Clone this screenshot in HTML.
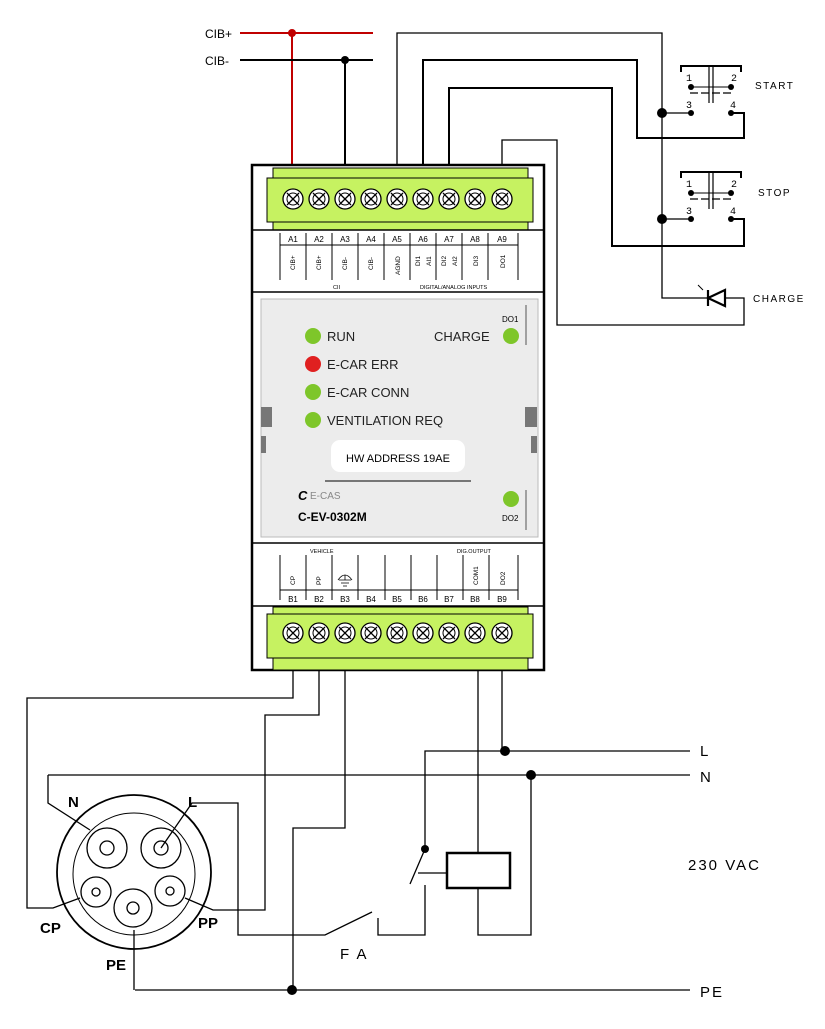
<!DOCTYPE html>
<html><head><meta charset="utf-8"><style>
html,body{margin:0;padding:0;background:#fff}
svg{display:block;font-family:"Liberation Sans",sans-serif}
</style></head><body>
<svg width="825" height="1029" viewBox="0 0 825 1029" xmlns="http://www.w3.org/2000/svg">
<defs>
<g id="scr"><circle r="10" fill="#fff" stroke="#000" stroke-width="1.3"/><circle r="6" fill="none" stroke="#000" stroke-width="1"/><path d="M-6,-6L6,6M-6,6L6,-6" stroke="#000" stroke-width="1.3"/></g>
</defs>
<!-- top wires -->
<g fill="none" stroke="#000" stroke-width="2">
<path d="M240,33H373M292,33V165" stroke="#c00000"/>
<path d="M240,60H373M345,60V165"/>
<path d="M397,165V33H662V298H708" stroke-width="1.3"/>
<path d="M423,165V60H637V138H744V113H731"/>
<path d="M449,165V88H612V246H744V219H731"/>
<path d="M502,165V140H557V325H744V298H725" stroke-width="1.3"/>
<path d="M662,113H691M662,219H691" stroke-width="1.3"/>
</g>
<g fill="#000"><circle cx="292" cy="33" r="4" fill="#c00000"/><circle cx="345" cy="60" r="4"/><circle cx="662" cy="113" r="5"/><circle cx="662" cy="219" r="5"/></g>
<text x="205" y="38" font-size="12">CIB+</text><text x="205" y="65" font-size="12">CIB-</text>
<!-- switches -->
<g stroke="#000" fill="none">
<path d="M681,72V66H741V72" stroke-width="2"/><path d="M709,66V103M713,66V103" stroke-width="1.2"/><path d="M691,87H731" stroke-width="1"/><path d="M690,93H731" stroke-dasharray="8,3" stroke-width="1.3"/>
<path d="M681,178V172H741V178" stroke-width="2"/><path d="M709,172V209M713,172V209" stroke-width="1.2"/><path d="M691,193H731" stroke-width="1"/><path d="M690,199H731" stroke-dasharray="8,3" stroke-width="1.3"/>
<path d="M708,290V306M708,298L725,290V306Z" stroke-width="2.2"/><path d="M703,290L698,285" stroke-width="1"/>
</g>
<g fill="#000"><circle cx="691" cy="87" r="3"/><circle cx="731" cy="87" r="3"/><circle cx="691" cy="113" r="3"/><circle cx="731" cy="113" r="3"/>
<circle cx="691" cy="193" r="3"/><circle cx="731" cy="193" r="3"/><circle cx="691" cy="219" r="3"/><circle cx="731" cy="219" r="3"/></g>
<g font-size="10" font-family="Liberation Mono,monospace"><text x="686" y="81">1</text><text x="731" y="81">2</text><text x="686" y="108">3</text><text x="730" y="108">4</text>
<text x="686" y="187">1</text><text x="731" y="187">2</text><text x="686" y="214">3</text><text x="730" y="214">4</text></g>
<g font-size="10" letter-spacing="1.5"><text x="755" y="89">START</text><text x="758" y="196">STOP</text><text x="753" y="302">CHARGE</text></g>
<!-- module -->
<rect x="252" y="165" width="292" height="505" fill="#fff" stroke="#000" stroke-width="2.5"/>
<rect x="273" y="168" width="255" height="62" fill="#c6f261" stroke="#000" stroke-width="1"/>
<rect x="267" y="178" width="266" height="44" fill="#c6f261" stroke="#000" stroke-width="1"/>
<rect x="273" y="607" width="255" height="63" fill="#c6f261" stroke="#000" stroke-width="1"/>
<rect x="267" y="614" width="266" height="44" fill="#c6f261" stroke="#000" stroke-width="1"/>
<g><use href="#scr" x="293" y="199"/><use href="#scr" x="319" y="199"/><use href="#scr" x="345" y="199"/><use href="#scr" x="371" y="199"/><use href="#scr" x="397" y="199"/><use href="#scr" x="423" y="199"/><use href="#scr" x="449" y="199"/><use href="#scr" x="475" y="199"/><use href="#scr" x="502" y="199"/>
<use href="#scr" x="293" y="633"/><use href="#scr" x="319" y="633"/><use href="#scr" x="345" y="633"/><use href="#scr" x="371" y="633"/><use href="#scr" x="397" y="633"/><use href="#scr" x="423" y="633"/><use href="#scr" x="449" y="633"/><use href="#scr" x="475" y="633"/><use href="#scr" x="502" y="633"/></g>
<path d="M252,230H544M252,292H544M252,543H544M252,606H544" stroke="#000" stroke-width="1.5"/>
<g stroke="#000" stroke-width="1"><path d="M280,245H518M280,590H518"/>
<path d="M280,233V280M306,233V280M332,233V280M358,233V280M384,233V280M410,233V280M436,233V280M462,233V280M488,233V280M518,233V280"/>
<path d="M280,555V600M306,555V600M332,555V600M358,555V600M385,555V600M411,555V600M437,555V600M463,555V600M489,555V600M518,555V600"/></g>
<g font-size="8" text-anchor="middle"><text x="293" y="242">A1</text><text x="319" y="242">A2</text><text x="345" y="242">A3</text><text x="371" y="242">A4</text><text x="397" y="242">A5</text><text x="423" y="242">A6</text><text x="449" y="242">A7</text><text x="475" y="242">A8</text><text x="502" y="242">A9</text>
<text x="293" y="602">B1</text><text x="319" y="602">B2</text><text x="345" y="602">B3</text><text x="371" y="602">B4</text><text x="397" y="602">B5</text><text x="423" y="602">B6</text><text x="449" y="602">B7</text><text x="475" y="602">B8</text><text x="502" y="602">B9</text></g>
<g font-size="6.5">
<text transform="translate(295,270) rotate(-90)">CIB+</text><text transform="translate(321,270) rotate(-90)">CIB+</text><text transform="translate(347,270) rotate(-90)">CIB-</text><text transform="translate(373,270) rotate(-90)">CIB-</text><text transform="translate(400,275) rotate(-90)">AGND</text><text transform="translate(420,266) rotate(-90)">DI1</text><text transform="translate(431,266) rotate(-90)">AI1</text><text transform="translate(446,266) rotate(-90)">DI2</text><text transform="translate(457,266) rotate(-90)">AI2</text><text transform="translate(478,266) rotate(-90)">DI3</text><text transform="translate(505,268) rotate(-90)">DO1</text>
<text transform="translate(295,585) rotate(-90)">CP</text><text transform="translate(321,585) rotate(-90)">PP</text><text transform="translate(478,585) rotate(-90)">COM1</text><text transform="translate(505,585) rotate(-90)">DO2</text>
<text x="333" y="289" font-size="5.5">CII</text><text x="420" y="289" font-size="5.5">DIGITAL/ANALOG INPUTS</text>
<text x="310" y="553" font-size="5.5">VEHICLE</text><text x="457" y="553" font-size="5.5">DIG.OUTPUT</text></g>
<path d="M345,575V580M339,580H351M341,583H349M343,586H347M338,580Q345,570 352,580" stroke="#000" fill="none" stroke-width="0.8"/>
<!-- panel -->
<rect x="261" y="299" width="277" height="238" fill="#ececec" stroke="#bbb"/>
<rect x="261" y="407" width="11" height="20" fill="#777"/><rect x="261" y="436" width="5" height="17" fill="#777"/>
<rect x="525" y="407" width="12" height="20" fill="#777"/><rect x="531" y="436" width="6" height="17" fill="#777"/>
<path d="M526,305V345M526,490V530" stroke="#555"/>
<g fill="#7ec62a"><circle cx="313" cy="336" r="8"/><circle cx="313" cy="392" r="8"/><circle cx="313" cy="420" r="8"/><circle cx="511" cy="336" r="8"/><circle cx="511" cy="499" r="8"/></g>
<circle cx="313" cy="364" r="8" fill="#e02020"/>
<g font-size="13" fill="#222"><text x="327" y="341">RUN</text><text x="327" y="369">E-CAR ERR</text><text x="327" y="397">E-CAR CONN</text><text x="327" y="425">VENTILATION REQ</text><text x="434" y="341">CHARGE</text></g>
<text x="502" y="322" font-size="8">DO1</text><text x="502" y="521" font-size="8">DO2</text>
<rect x="331" y="440" width="134" height="32" rx="9" fill="#fff"/>
<text x="398" y="462" font-size="11" text-anchor="middle">HW ADDRESS 19AE</text>
<path d="M325,481H471" stroke="#000"/>
<text x="298" y="500" font-size="13" font-weight="bold" font-style="italic">C</text><text x="310" y="499" font-size="10" fill="#888">E-CAS</text>
<text x="298" y="521" font-size="12" font-weight="bold">C-EV-0302M</text>
<!-- bottom wiring -->
<g fill="none" stroke="#000" stroke-width="1.3">
<path d="M293,670V698H27V908H53L80,898"/>
<path d="M319,670V715H265V910H213L185,898"/>
<path d="M345,670V828H293V990"/>
<path d="M48,775H690M48,775V803L90,830"/>
<path d="M213,803H238V935H325L372,912M378,918V935H425V885"/>
<path d="M425,849V751H690M425,849L410,884M418,873H447"/>
<path d="M478,670V853M478,888V935H531V775M502,670V751"/>
<path d="M135,990H690M134,930V990"/>
<path d="M161,848L192,803H213"/>
</g>
<rect x="447" y="853" width="63" height="35" fill="none" stroke="#000" stroke-width="2.5"/>
<g fill="#000"><circle cx="505" cy="751" r="5"/><circle cx="531" cy="775" r="5"/><circle cx="292" cy="990" r="5"/><circle cx="425" cy="849" r="4"/></g>
<!-- connector -->
<g fill="none" stroke="#000" stroke-width="1.3">
<circle cx="134" cy="872" r="77" stroke-width="1.8"/><circle cx="134" cy="874" r="61" stroke-width="1"/>
<circle cx="107" cy="848" r="20"/><circle cx="107" cy="848" r="7"/>
<circle cx="161" cy="848" r="20"/><circle cx="161" cy="848" r="7"/>
<circle cx="96" cy="892" r="15"/><circle cx="96" cy="892" r="4"/>
<circle cx="170" cy="891" r="15"/><circle cx="170" cy="891" r="4"/>
<circle cx="133" cy="908" r="19"/><circle cx="133" cy="908" r="6"/>
</g>
<g font-size="15" font-weight="bold"><text x="68" y="807">N</text><text x="188" y="807">L</text><text x="40" y="933">CP</text><text x="198" y="928">PP</text><text x="106" y="970">PE</text></g>
<g font-size="15" letter-spacing="2"><text x="700" y="756">L</text><text x="700" y="782">N</text><text x="700" y="997">PE</text><text x="340" y="959">F A</text><text x="688" y="870">230 VAC</text></g>
</svg>
</body></html>
